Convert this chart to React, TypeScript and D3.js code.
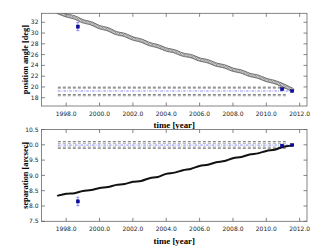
import React, { useEffect, useRef } from "react";
import * as d3 from "d3";

const width = 326;
const height = 246;
const margin = { left: 41.5, right: 19 };
const panels = [
  { top: 13.3, bottom: 106 },
  { top: 129.5, bottom: 221.3 },
];

// model track, sampled every half year
const years = [
  1997.5, 1998.0, 1998.5, 1999.0, 1999.5, 2000.0, 2000.5, 2001.0, 2001.5, 2002.0,
  2002.5, 2003.0, 2003.5, 2004.0, 2004.5, 2005.0, 2005.5, 2006.0, 2006.5, 2007.0,
  2007.5, 2008.0, 2008.5, 2009.0, 2009.5, 2010.0, 2010.5, 2011.0, 2011.5, 2011.6,
];
const posAngle = [
  33.9, 33.3, 32.9, 32.2, 31.8, 31.1, 30.7, 30.0, 29.65, 29.0,
  28.6, 27.95, 27.55, 26.95, 26.6, 26.0, 25.7, 25.1, 24.75, 24.15,
  23.8, 23.2, 22.85, 22.25, 21.9, 21.3, 20.9, 20.3, 19.55, 19.4,
];
const separation = [
  8.34, 8.4, 8.42, 8.49, 8.52, 8.59, 8.62, 8.69, 8.72, 8.79,
  8.82, 8.91, 8.95, 9.05, 9.09, 9.17, 9.22, 9.31, 9.35, 9.43,
  9.47, 9.56, 9.6, 9.68, 9.72, 9.8, 9.84, 9.93, 9.98, 10.0,
];

// measurements
const obsYears = [1998.7, 2010.95, 2011.55];
const obsPosAngle = [31.2, 19.6, 19.25];
const obsPosAngleErr = [0.75, 0.1, 0.1];
const obsSep = [8.15, 9.97, 9.99];
const obsSepErr = [0.14, 0.01, 0.01];

// reference levels
const guideSpan = [1997.5, 2011.2];
const medianSpan = [1997.5, 2011.55];
const paDashed = [19.95, 18.55];
const paGray = [19.7, 18.35];
const paMedian = 19.25;
const sepDashed = [10.1, 9.89];
const sepGray = [10.04, 9.93];
const sepMedian = 9.99;

const xTicks = [1998, 2000, 2002, 2004, 2006, 2008, 2010, 2012];
const paTicks = [18, 20, 22, 24, 26, 28, 30, 32];
const sepTicks = [7.5, 8.0, 8.5, 9.0, 9.5, 10.0, 10.5];

const xDomain = [1996.52, 2012.44];

export default function App() {
  const ref = useRef(null);

  useEffect(() => {
    const svg = d3.select(ref.current);
    svg.selectAll("*").remove();

    const x = d3
      .scaleLinear()
      .domain(xDomain)
      .range([margin.left, width - margin.right]);

    const drawPanel = (idx, cfg) => {
      const { top, bottom } = panels[idx];
      const y = d3.scaleLinear().domain(cfg.domain).range([bottom, top]);
      const g = svg.append("g");
      const clipId = `clip-${idx}`;
      g.append("clipPath")
        .attr("id", clipId)
        .append("rect")
        .attr("x", margin.left)
        .attr("y", top)
        .attr("width", width - margin.right - margin.left)
        .attr("height", bottom - top);

      const plot = g.append("g").attr("clip-path", `url(#${clipId})`);

      // horizontal reference lines
      const hline = (v, span, color, dash, sw) =>
        plot
          .append("line")
          .attr("x1", x(span[0]))
          .attr("x2", x(span[1]))
          .attr("y1", y(v))
          .attr("y2", y(v))
          .attr("stroke", color)
          .attr("stroke-width", sw)
          .attr("stroke-dasharray", dash);

      cfg.gray.forEach(v => hline(v, guideSpan, "#a0a0a0", "3,2", 0.8));
      cfg.dashed.forEach(v => hline(v, guideSpan, "#222", "3,2", 0.7));
      hline(cfg.median, medianSpan, "#5555ff", "2.5,1.2,0.8,1.2", 0.7);

      const line = d3
        .line()
        .x(d => x(d[0]))
        .y(d => y(d[1]))
        .curve(d3.curveMonotoneX);
      const pts = years.map((yr, i) => [yr, cfg.track[i]]);

      if (cfg.hollow) {
        const path = plot
          .append("path")
          .attr("d", line(pts))
          .attr("fill", "none")
          .attr("stroke", "none");
        const node = path.node();
        const len = node.getTotalLength();
        const marks = d3.range(0, len, 1.4).map(l => node.getPointAtLength(l));
        plot
          .append("g")
          .selectAll("circle")
          .data(marks)
          .join("circle")
          .attr("cx", d => d.x)
          .attr("cy", d => d.y)
          .attr("r", 1.7)
          .attr("fill", "#fff")
          .attr("stroke", "#222")
          .attr("stroke-width", 0.5);
      } else {
        plot
          .append("path")
          .attr("d", line(pts))
          .attr("fill", "none")
          .attr("stroke", "#111")
          .attr("stroke-width", 2)
          .attr("stroke-linecap", "round");
      }

      // measurements with error bars
      const obs = obsYears.map((yr, i) => ({ yr, v: cfg.obs[i], e: cfg.err[i] }));
      const eg = plot.append("g").attr("stroke", "#5a5aff").attr("stroke-width", 0.7);
      obs.forEach(d => {
        eg.append("line")
          .attr("x1", x(d.yr))
          .attr("x2", x(d.yr))
          .attr("y1", y(d.v - d.e))
          .attr("y2", y(d.v + d.e));
        [d.v - d.e, d.v + d.e].forEach(v =>
          eg
            .append("line")
            .attr("x1", x(d.yr) - 1.5)
            .attr("x2", x(d.yr) + 1.5)
            .attr("y1", y(v))
            .attr("y2", y(v))
        );
      });
      plot
        .append("g")
        .selectAll("rect")
        .data(obs)
        .join("rect")
        .attr("x", d => x(d.yr) - 1.6)
        .attr("y", d => y(d.v) - 1.6)
        .attr("width", 3.2)
        .attr("height", 3.2)
        .attr("fill", "#0b0bb0")
        .attr("stroke", "#000060")
        .attr("stroke-width", 0.4);

      // frame and ticks
      const frame = g.append("g").attr("stroke", "#666").attr("stroke-width", 0.8);
      frame
        .append("rect")
        .attr("x", margin.left)
        .attr("y", top)
        .attr("width", width - margin.right - margin.left)
        .attr("height", bottom - top)
        .attr("fill", "none");
      const tl = 3.5;
      xTicks.forEach(t => {
        frame.append("line").attr("x1", x(t)).attr("x2", x(t)).attr("y1", bottom).attr("y2", bottom - tl);
        frame.append("line").attr("x1", x(t)).attr("x2", x(t)).attr("y1", top).attr("y2", top + tl);
      });
      cfg.ticks.forEach(t => {
        frame.append("line").attr("x1", margin.left).attr("x2", margin.left + tl).attr("y1", y(t)).attr("y2", y(t));
        frame
          .append("line")
          .attr("x1", width - margin.right)
          .attr("x2", width - margin.right - tl)
          .attr("y1", y(t))
          .attr("y2", y(t));
      });

      const labels = g
        .append("g")
        .attr("font-family", "DejaVu Sans, sans-serif")
        .attr("font-size", 6)
        .attr("fill", "#222");
      xTicks.forEach(t =>
        labels
          .append("text")
          .attr("x", x(t))
          .attr("y", bottom + 5.5)
          .attr("dy", "0.71em")
          .attr("text-anchor", "middle")
          .text(d3.format(".1f")(t))
      );
      cfg.ticks.forEach(t =>
        labels
          .append("text")
          .attr("x", margin.left - 3)
          .attr("y", y(t))
          .attr("dy", "0.35em")
          .attr("text-anchor", "end")
          .text(cfg.fmt(t))
      );

      g.append("text")
        .attr("x", (margin.left + width - margin.right) / 2)
        .attr("y", bottom + 16)
        .attr("dy", "0.71em")
        .attr("text-anchor", "middle")
        .attr("font-family", "Liberation Serif, serif")
        .attr("font-weight", "bold")
        .attr("font-size", 8.8)
        .attr("fill", "#000")
        .text("time [year]");

      g.append("text")
        .attr("transform", `translate(25,${(top + bottom) / 2}) rotate(-90)`)
        .attr("dy", "0.35em")
        .attr("text-anchor", "middle")
        .attr("font-family", "Liberation Serif, serif")
        .attr("font-weight", "bold")
        .attr("font-size", 8.3)
        .attr("fill", "#000")
        .text(cfg.label);
    };

    drawPanel(0, {
      domain: [16.46, 33.67],
      ticks: paTicks,
      fmt: d3.format("d"),
      track: posAngle,
      hollow: true,
      obs: obsPosAngle,
      err: obsPosAngleErr,
      dashed: paDashed,
      gray: paGray,
      median: paMedian,
      label: "position angle [deg]",
    });

    drawPanel(1, {
      domain: [7.5, 10.5],
      ticks: sepTicks,
      fmt: d3.format(".1f"),
      track: separation,
      hollow: false,
      obs: obsSep,
      err: obsSepErr,
      dashed: sepDashed,
      gray: sepGray,
      median: sepMedian,
      label: "separation [arcsec]",
    });
  }, []);

  return (
    <svg
      ref={ref}
      width={width}
      height={height}
      style={{ position: "absolute", left: 0, top: 0, background: "#fff" }}
    />
  );
}
